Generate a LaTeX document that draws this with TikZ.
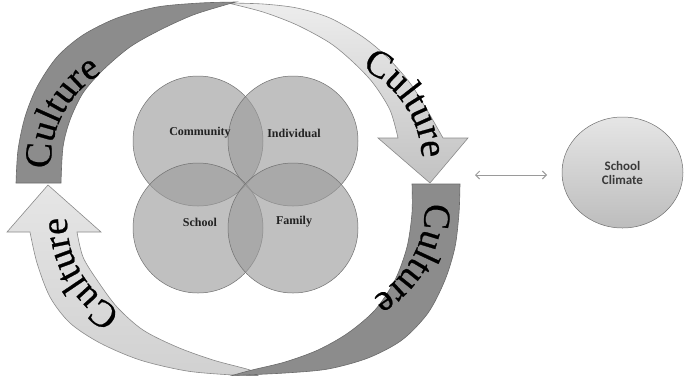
\documentclass[tikz,border=0pt]{standalone}
\usepackage{fontspec}
\setmainfont{Liberation Serif}
\newfontfamily\scfont{Carlito}
\font\culturefont="Liberation Serif:embolden=0.6" at 38pt
\usetikzlibrary{decorations.text,arrows.meta,shapes.geometric}
\definecolor{darkband}{HTML}{8C8C8C}
\definecolor{bandline}{HTML}{6A6A6A}
\definecolor{lightline}{HTML}{8A8A8A}
\definecolor{venn}{gray}{0.61}
\definecolor{vennline}{HTML}{707070}
\definecolor{vtext}{HTML}{222222}
\definecolor{sctext}{HTML}{3A3A3A}
\definecolor{arrowgray}{HTML}{9A9A9A}
\begin{document}
\begin{tikzpicture}[x=1pt,y=-1pt,
  darkshape/.style={fill=darkband, draw=bandline, line width=0.6pt},
  lightTR/.style={draw=lightline, line width=0.6pt, top color=black!7, bottom color=black!24},
  lightBL/.style={draw=lightline, line width=0.6pt, top color=black!10, bottom color=black!18},
  culturetext/.style={decorate, decoration={text along path, text={|\culturefont|Culture}, text align=center}},
  venncircle/.style={circle, minimum size=130pt, inner sep=0pt, fill=venn, fill opacity=0.64, draw=vennline, draw opacity=1, line width=0.5pt},
  venntext/.style={font=\fontsize{12}{12}\selectfont\bfseries, text=vtext, inner sep=0pt},
  climate/.style={ellipse, minimum width=121pt, minimum height=111pt, inner sep=0pt, draw=vennline, line width=0.5pt, top color=black!10, bottom color=black!26, align=center, font=\scfont\fontsize{13}{14}\selectfont\bfseries, text=sctext},
  dblarrow/.style={draw=arrowgray, line width=1pt, {Straight Barb[length=4pt,width=8pt]}-{Straight Barb[length=4pt,width=8pt]}}]
\useasboundingbox (0,0) rectangle (685,376);

% light arrows
\path[lightTR] plot[smooth] coordinates {(228,3) (263,4) (297,8) (330,18) (363,37) (387,57) (410,83) (427,110) (443,138)}
  -- (468,138) -- (430,183) -- (378,138) -- (398,138)
  -- plot[smooth] coordinates {(398,138) (390,110) (373,83) (353,62) (330,43) (297,25) (263,12) (228,3)} -- cycle;
\path[lightBL] plot[smooth] coordinates {(258,375.5) (233,375) (187,371) (140,360) (100,343) (70,323) (50,297) (37,263) (30,232)}
  -- (7,232) -- (48,185) -- (101,232) -- (77,232)
  -- plot[smooth] coordinates {(77,232) (83,257) (97,280) (117,307) (143,330) (177,347) (213,360) (250,370) (258,375.5)} -- cycle;

% dark bands
\path[darkshape] plot[smooth] coordinates {(16,183) (18,150) (25,117) (37,87) (57,57) (83,35) (117,18) (157,7) (200,3) (236,2)}
  -- plot[smooth] coordinates {(236,2) (225,5) (193,15) (160,30) (130,47) (103,70) (83,93) (70,120) (63,147) (61,183)} -- cycle;
\path[darkshape] (412,184) -- (460,184)
  -- plot[smooth] coordinates {(460,184) (459,213) (455,247) (445,280) (428,313) (402,340) (368,358) (328,369) (285,373) (232,375.5)}
  -- plot[smooth] coordinates {(232,375.5) (252,370) (285,362) (318,350) (348,333) (375,310) (395,280) (407,247) (412,213) (412,184)} -- cycle;

% Culture texts (baselines on arcs)
\path[culturetext] (156,163) ++(168:105) arc[start angle=168, end angle=248, radius=105];
\path[culturetext] (318,163) ++(-74:104) arc[start angle=-74, end angle=6, radius=104];
\path[culturetext] (320,207) ++(-11:105) arc[start angle=-11, end angle=69, radius=105];
\path[culturetext] (171,220) ++(110:104) arc[start angle=110, end angle=190, radius=104];

% Venn circles
\node[venncircle] (ccom) at (198,141) {};
\node[venncircle] (cind) at (293,141) {};
\node[venncircle] (csch) at (198,228) {};
\node[venncircle] (cfam) at (293,228) {};
\node[venntext] (tcom) at (200,133) {Community};
\node[venntext] (tind) at (294,133) {Individual};
\node[venntext] (tsch) at (200,222) {School};
\node[venntext] (tfam) at (294,222) {Family};

% School climate
\node[climate] (climate) at (622.5,172.5) {School\\Climate};
\coordinate (arrL) at (475,175);
\coordinate (arrR) at (547,175);
\draw[dblarrow] (arrL) -- (arrR);
\end{tikzpicture}
\end{document}
